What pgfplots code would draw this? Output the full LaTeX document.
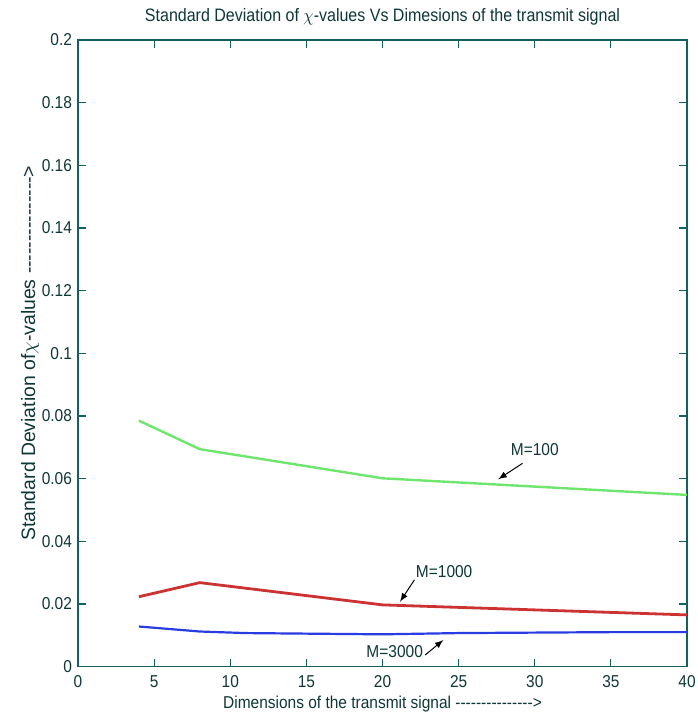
\documentclass[border=0pt]{standalone}
\usepackage{pgfplots}
\pgfplotsset{compat=1.18}
\usepackage{fontspec}
\setmainfont{Liberation Sans}[Ligatures=TeXOff]
\definecolor{axc}{RGB}{20,95,95}
\definecolor{txc}{RGB}{15,55,55}
\definecolor{gline}{RGB}{110,230,110}
\definecolor{rline}{RGB}{205,50,50}
\definecolor{bline}{RGB}{40,60,225}
\newcommand\sq[1]{\scalebox{0.9}[1]{#1}}
\begin{document}
\begin{tikzpicture}
\begin{axis}[
  at={(0,0)}, anchor=south west,
  scale only axis,
  width=304.5pt, height=313.3pt,
  xmin=0, xmax=40, ymin=0, ymax=0.2,
  xtick={0,5,...,40},
  xticklabels={\sq{0},\sq{5},\sq{10},\sq{15},\sq{20},\sq{25},\sq{30},\sq{35},\sq{40}},
  ytick={0,0.02,...,0.2},
  yticklabels={\sq{0},\sq{0.02},\sq{0.04},\sq{0.06},\sq{0.08},\sq{0.1},\sq{0.12},\sq{0.14},\sq{0.16},\sq{0.18},\sq{0.2}},
  scaled y ticks=false,
  tick align=inside,
  major tick length=4pt,
  axis line style={axc, line width=0.6pt},
  every tick/.style={axc, line width=0.6pt},
  tick label style={font=\fontsize{8.6}{10}\selectfont, text=txc},
  xticklabel style={yshift=-1pt},
  yticklabel style={xshift=0.5pt},
  title={\scalebox{0.89}[1]{\fontsize{9}{10}\selectfont Standard Deviation of $\chi$-values Vs Dimesions of the transmit signal}},
  title style={text=txc, yshift=-2pt},
  xlabel={\scalebox{0.9}[1]{\fontsize{8.6}{10}\selectfont Dimensions of the transmit signal --------------->}},
  ylabel={\fontsize{9.7}{11}\selectfont Standard Deviation of$\chi$-values --------------->},
  xlabel style={text=txc, yshift=3pt},
  ylabel style={text=txc, yshift=-5.5pt},
]
\addplot[gline, line width=1.2pt] coordinates {(4,0.0785) (8,0.0694) (20,0.0601) (40,0.0548)};
\addplot[rline, line width=1.4pt] coordinates {(4,0.0223) (8,0.0268) (20,0.0197) (40,0.0165)};
\addplot[bline, line width=1.1pt] coordinates {(4,0.0128) (8,0.0112) (11,0.0107) (20,0.0103) (25,0.0107) (35,0.0110) (40,0.0110)};
\node[text=txc, font=\fontsize{8.6}{10}\selectfont] at (axis cs:30.0,0.0692) {\sq{M=100}};
\draw[-latex, black, line width=0.5pt] (axis cs:29.2,0.0649) -- (axis cs:27.6,0.0598);
\node[text=txc, font=\fontsize{8.6}{10}\selectfont] at (axis cs:24.05,0.0303) {\sq{M=1000}};
\draw[-latex, black, line width=0.5pt] (axis cs:22.1,0.0277) -- (axis cs:21.15,0.0207);
\node[text=txc, font=\fontsize{8.6}{10}\selectfont] at (axis cs:20.8,0.0048) {\sq{M=3000}};
\draw[-latex, black, line width=0.5pt] (axis cs:22.8,0.0037) -- (axis cs:24.0,0.0085);
\end{axis}
\pgfresetboundingbox
\path (-39pt,-24.2pt) rectangle (309.5pt,333.3pt);
\end{tikzpicture}
\end{document}
